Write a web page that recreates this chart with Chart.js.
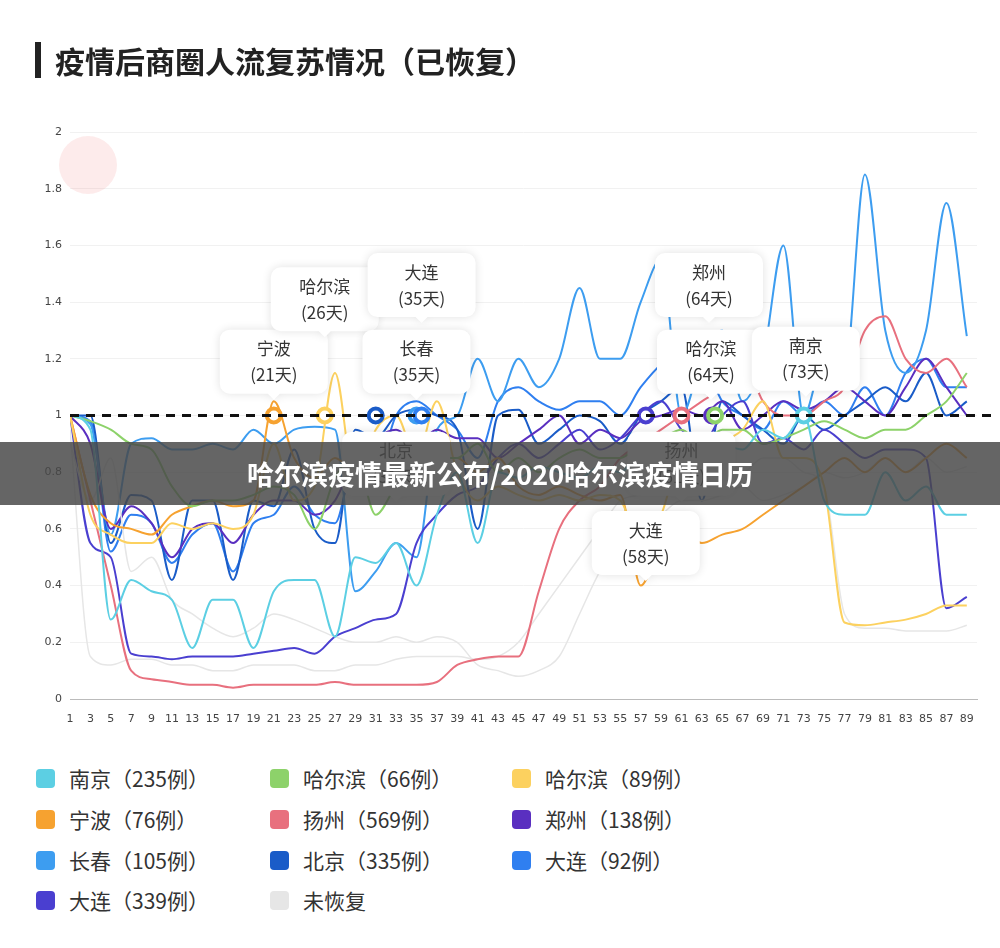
<!DOCTYPE html>
<html><head><meta charset="utf-8">
<script src="https://cdn.jsdelivr.net/npm/chart.js@4"></script>
<style>
body{margin:0;width:1000px;height:948px;background:#fff;font-family:"Noto Sans CJK SC","Noto Sans",sans-serif;position:relative;overflow:hidden}
#title{position:absolute;left:35px;top:40px;height:40px;display:flex;align-items:center;font-size:30px;font-weight:bold;color:#222}
#title:before{content:"";display:inline-block;width:6px;height:36px;background:#222;margin-right:14px}
#wrap{position:absolute;left:0;top:0;width:1000px;height:740px}
#banner{position:absolute;left:0;top:442px;width:1000px;height:63px;background:rgba(72,72,72,0.84);color:#fff;font-weight:bold;font-size:27px;display:flex;align-items:center;justify-content:center}
.lg{position:absolute;font-size:21px;color:#333;display:flex;align-items:center;height:30px}
.lg i{display:inline-block;width:19px;height:19px;border-radius:4px;margin-right:14px}
</style></head><body>
<div id="wrap"><canvas id="c" width="1000" height="740"></canvas></div>
<div id="title">疫情后商圈人流复苏情况（已恢复）</div>
<div id="banner">哈尔滨疫情最新公布/2020哈尔滨疫情日历</div>
<div id="legend"></div>
<script>
const days = [1,3,5,7,9,11,13,15,17,19,21,23,25,27,29,31,33,35,37,39,41,43,45,47,49,51,53,55,57,59,61,63,65,67,69,71,73,75,77,79,81,83,85,87,89];
const seriesNames = ["南京（235例）","哈尔滨（66例）","哈尔滨（89例）","宁波（76例）","扬州（569例）","郑州（138例）","长春（105例）","北京（335例）","大连（92例）","大连（339例）","未恢复"];
const seriesColors = ["#5ccfe3","#8dd26a","#fcd15f","#f6a230","#e8707e","#5a2fc0","#3d9df0","#1a5cc8","#2f7ff0","#4a3fd0","#e6e6e6"];
const nanjing = [1.0,0.95,0.28,0.42,0.38,0.35,0.18,0.35,0.35,0.18,0.38,0.42,0.42,0.22,0.5,0.48,0.55,0.4,0.65,0.8,0.55,0.8,0.78,0.82,0.8,0.78,0.82,0.8,0.88,0.9,0.88,0.92,0.9,0.88,0.95,0.92,1.0,0.7,0.65,0.65,0.8,0.7,0.75,0.65,0.65];
const harbin66 = [1.0,0.98,0.95,0.9,0.88,0.75,0.68,0.7,0.7,0.72,0.75,0.72,0.6,0.78,0.85,0.65,0.75,0.8,0.85,0.85,0.9,0.8,0.85,0.8,0.85,0.88,0.85,0.85,0.9,0.92,0.95,0.9,0.95,0.95,0.9,0.92,0.95,0.98,0.95,0.92,0.95,0.95,1.0,1.05,1.15];
const harbin89 = [1.0,0.65,0.58,0.55,0.55,0.62,0.6,0.62,0.6,0.65,0.9,0.7,0.75,1.15,0.75,0.95,1.0,0.85,1.05,0.8,0.7,0.75,0.72,0.7,0.72,0.7,0.72,0.7,0.55,0.65,0.85,0.8,0.9,0.95,1.05,0.85,0.85,0.75,0.27,0.26,0.27,0.28,0.3,0.33,0.33];
const ningbo = [1.0,0.72,0.62,0.6,0.58,0.65,0.68,0.7,0.68,0.7,1.05,0.85,0.78,0.85,0.8,0.9,0.85,0.9,0.85,0.85,0.8,0.85,0.75,0.72,0.75,0.72,0.7,0.72,0.4,0.55,0.6,0.55,0.58,0.6,0.65,0.7,0.75,0.8,0.85,0.8,0.85,0.8,0.85,0.9,0.85];
const yangzhou = [1.0,0.7,0.4,0.1,0.07,0.06,0.05,0.05,0.04,0.05,0.05,0.05,0.05,0.06,0.05,0.05,0.05,0.05,0.06,0.12,0.14,0.15,0.15,0.38,0.6,0.7,0.75,0.85,0.9,0.95,1.0,1.05,1.1,1.2,1.05,1.0,1.0,1.05,1.1,1.3,1.35,1.2,1.15,1.2,1.1];
const zhengzhou = [1.0,0.9,0.6,0.68,0.62,0.5,0.6,0.62,0.55,0.65,0.7,0.7,0.65,0.7,0.85,0.92,0.95,0.9,0.95,0.92,0.92,0.85,0.9,0.95,1.0,0.9,0.95,0.92,0.98,1.0,1.02,1.0,1.05,0.95,1.0,1.05,1.02,1.05,1.1,1.05,1.0,1.1,1.2,1.1,1.0];
const changchun = [1.0,0.97,0.58,0.9,0.92,0.88,0.88,0.9,0.88,0.95,0.9,0.95,0.96,0.95,0.38,0.45,0.55,0.5,0.95,1.0,1.2,1.05,1.2,1.1,1.2,1.45,1.2,1.2,1.4,1.55,1.0,1.2,1.3,1.05,1.2,1.6,1.0,1.2,1.15,1.85,1.3,1.15,1.3,1.75,1.28];
const beijing = [1.0,1.0,0.55,0.72,0.7,0.42,0.7,0.7,0.42,0.7,0.68,0.88,0.6,0.55,0.95,0.92,1.0,1.02,1.0,0.95,0.6,1.0,1.02,0.9,0.95,1.0,0.98,0.9,1.0,1.05,1.1,0.7,1.05,1.0,0.95,0.9,1.0,0.95,1.0,1.05,1.1,1.05,1.15,1.0,1.05];
const dalian92 = [1.0,0.98,0.52,0.65,0.62,0.48,0.58,0.62,0.45,0.62,0.65,0.75,0.65,0.62,0.85,0.8,1.0,1.05,1.0,0.95,0.85,1.05,1.1,1.05,1.02,1.05,1.05,1.0,1.1,1.18,1.22,1.2,1.05,1.0,0.95,1.05,1.0,1.05,1.0,1.1,1.0,1.15,1.2,1.1,1.1];
const dalian339 = [1.0,0.55,0.5,0.16,0.15,0.14,0.15,0.15,0.15,0.16,0.17,0.18,0.16,0.22,0.25,0.28,0.3,0.55,0.65,0.72,0.75,0.85,0.9,0.85,0.9,0.95,0.88,0.92,1.0,1.05,0.95,0.9,1.0,1.05,0.9,0.92,0.88,0.95,0.9,0.85,0.88,0.88,0.85,0.32,0.36];
const unrecovered1 = [0.95,0.15,0.12,0.14,0.14,0.12,0.12,0.1,0.1,0.12,0.12,0.12,0.1,0.1,0.12,0.12,0.14,0.15,0.15,0.15,0.14,0.15,0.2,0.3,0.4,0.5,0.6,0.7,0.72,0.75,0.8,0.78,0.82,0.8,0.85,0.85,0.8,0.75,0.3,0.25,0.25,0.24,0.24,0.24,0.26];
const unrecovered2 = [0.9,0.7,0.85,0.45,0.5,0.35,0.3,0.25,0.22,0.25,0.3,0.28,0.25,0.22,0.2,0.2,0.22,0.2,0.22,0.2,0.12,0.1,0.08,0.1,0.15,0.3,0.45,0.55,0.6,0.65,0.7,0.7,0.72,0.75,0.7,0.72,0.75,0.8,0.78,0.8,0.85,0.8,0.85,0.8,0.82];
const yTicks = [0,0.2,0.4,0.6,0.8,1,1.2,1.4,1.6,1.8,2];
const markerDays = [21,26,31,35,35.5,57.5,61,64,64.3,73];
const markerColor = [3,2,7,6,8,9,4,5,1,0];
const noteText = [["宁波","(21天)"],["哈尔滨","(26天)"],["大连","(35天)"],["长春","(35天)"],["郑州","(64天)"],["哈尔滨","(64天)"],["南京","(73天)"],["大连","(58天)"],["北京","(31天)"],["扬州","(61天)"]];
const noteDay = [21,26,35.5,35,63.7,63.9,73.2,57.5,33,61];
const noteVal = [1.19,1.41,1.46,1.19,1.46,1.19,1.2,0.55,0.83,0.83];

const lineSets = [[nanjing,0],[harbin66,1],[harbin89,2],[ningbo,3],[yangzhou,4],[unrecovered1,10],[unrecovered2,10],[dalian339,9],[zhengzhou,5],[changchun,6],[beijing,7],[dalian92,8]];
const datasets = [];
datasets.push({type:'scatter',data:markerDays.map(d=>({x:d,y:1})),pointRadius:7,pointBorderWidth:4,
  pointBackgroundColor:'#fff',pointBorderColor:markerColor.map(i=>seriesColors[i]),order:-1});
lineSets.forEach(([arr,ci])=>datasets.push({type:'line',data:arr.map((v,i)=>({x:days[i],y:v})),borderColor:seriesColors[ci],borderWidth:ci==10?1.5:2,pointRadius:0,tension:0.45,cubicInterpolationMode:'monotone'}));

const extras={id:'extras',
 beforeDatasetsDraw(ch){const c=ch.ctx;
  c.save();c.fillStyle='rgba(240,120,120,0.15)';c.beginPath();c.arc(88,165,29,0,7);c.fill();c.restore();},
 afterDatasetsDraw(ch){const c=ch.ctx,x=ch.scales.x,y=ch.scales.y;
  c.save();c.strokeStyle='#111';c.lineWidth=3;c.setLineDash([9,7]);c.beginPath();
  c.moveTo(x.getPixelForValue(1),y.getPixelForValue(1));c.lineTo(995,y.getPixelForValue(1));c.stroke();c.restore();
 },
 afterDraw(ch){const c=ch.ctx,x=ch.scales.x,y=ch.scales.y;
  noteText.forEach((t,i)=>{const cx=x.getPixelForValue(noteDay[i]),cy=y.getPixelForValue(noteVal[i]);
   const w=108,h=64;c.save();c.shadowColor='rgba(0,0,0,0.12)';c.shadowBlur=10;c.fillStyle='#fff';
   c.beginPath();c.roundRect(cx-w/2,cy-h/2,w,h,10);c.moveTo(cx-6,cy+h/2);c.lineTo(cx,cy+h/2+6);c.lineTo(cx+6,cy+h/2);c.fill();c.restore();
   c.fillStyle='#333';c.font='17px "Noto Sans CJK SC"';c.textAlign='center';c.textBaseline='middle';
   c.fillText(t[0],cx,cy-13);c.fillText(t[1],cx,cy+13);});
 }};

new Chart(document.getElementById('c'),{data:{datasets},plugins:[extras],
 options:{responsive:false,animation:false,events:[],
  layout:{padding:{left:8,right:23,top:132,bottom:1}},
  plugins:{legend:{display:false},tooltip:{enabled:false}},
  scales:{
   x:{type:'linear',min:1,max:90,grid:{display:false},border:{color:'#bbb'},
     afterBuildTicks:s=>{s.ticks=days.map(d=>({value:d}));},
     afterFit:s=>{s.height=40},
     ticks:{color:'#444',font:{size:11,family:'DejaVu Sans'},maxRotation:0,autoSkip:false,padding:6}},
   y:{min:0,max:2,afterBuildTicks:s=>{s.ticks=yTicks.map(v=>({value:v}));},afterFit:s=>{s.width=62},
     grid:{color:'#f1f1f1',drawTicks:false},border:{display:false},
     ticks:{color:'#444',font:{size:11,family:'DejaVu Sans'},padding:8,callback:v=>String(Math.round(v*10)/10)}}
  }}});

const lg=document.getElementById('legend');
const cols=[36,270,512],rows=[763,804,845,885];
seriesNames.forEach((n,i)=>{const d=document.createElement('div');d.className='lg';
 d.style.left=cols[i%3]+'px';d.style.top=rows[Math.floor(i/3)]+'px';
 d.innerHTML='<i style="background:'+seriesColors[i]+'"></i>'+n;lg.appendChild(d);});
</script></body></html>
